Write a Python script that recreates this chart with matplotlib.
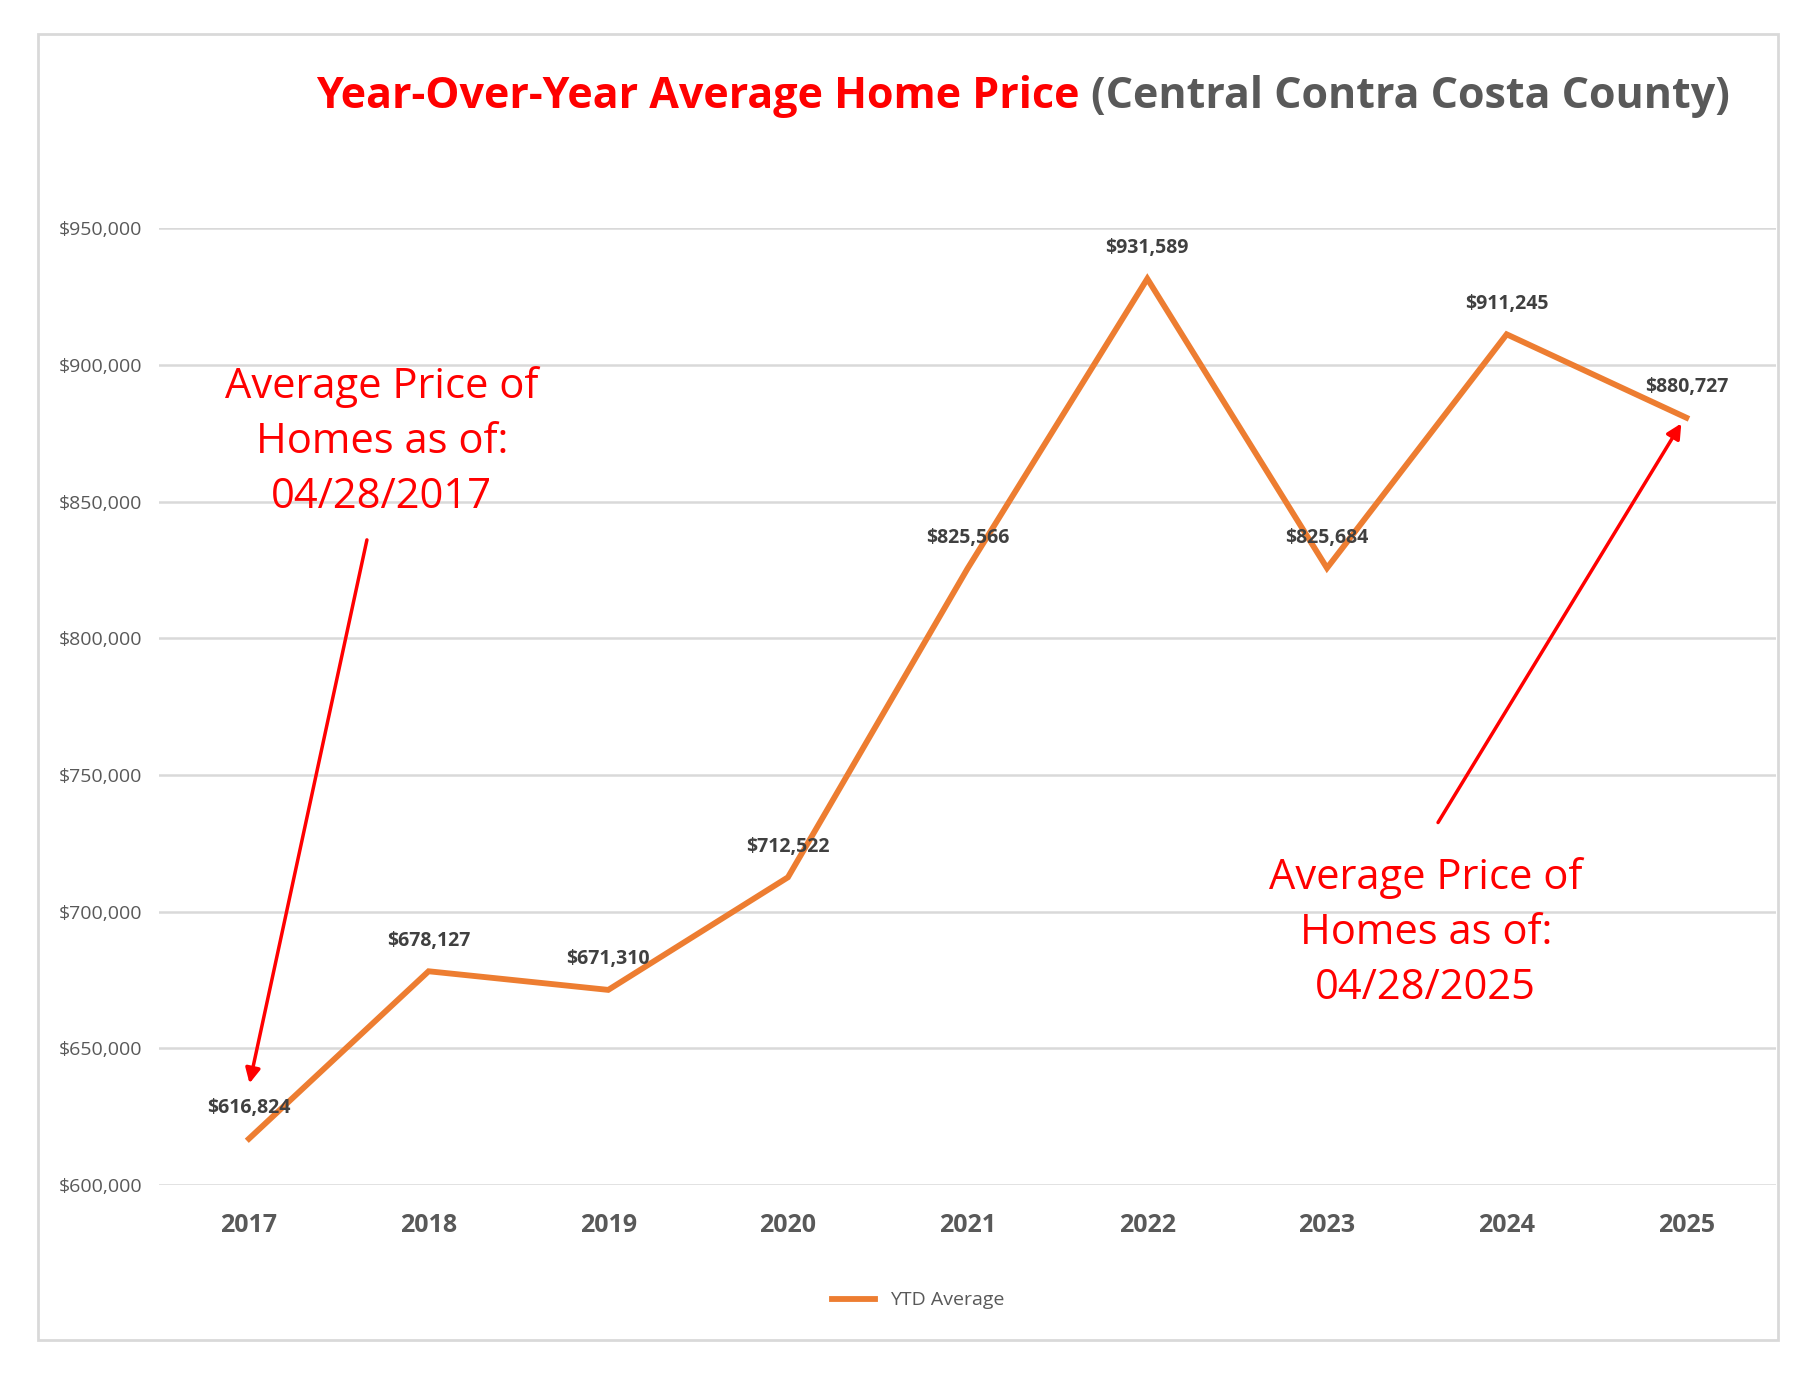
import matplotlib
matplotlib.use("Agg")
import matplotlib.pyplot as plt
from matplotlib.patches import Rectangle

years = ["2017", "2018", "2019", "2020", "2021", "2022", "2023", "2024", "2025"]
prices = [616824, 678127, 671310, 712522, 825566, 931589, 825684, 911245, 880727]
yticks = [600000, 650000, 700000, 750000, 800000, 850000, 900000, 950000]

ORANGE = "#ED7D31"
RED = "#FF0000"
FONT = ["Open Sans", "DejaVu Sans"]

fig = plt.figure(figsize=(18.18, 13.76), dpi=100)
ax = fig.add_axes([0.0875, 0.139, 0.8895, 0.695])

x = list(range(len(years)))
ax.plot(x, prices, color=ORANGE, linewidth=4.2, label="YTD Average", clip_on=False,
        solid_joinstyle="miter")
for xi, v in zip(x, prices):
    ax.annotate(f"${v:,}", (xi, v), textcoords="offset points", xytext=(0, 22),
                ha="center", va="center", fontsize=14, fontweight="bold",
                color="#404040", family=FONT)

ax.set_xlim(-0.5, len(years) - 0.5)
ax.set_ylim(600000, 950000)
ax.set_yticks(yticks)
ax.set_yticklabels([f"${v:,}" for v in yticks], fontsize=14, color="#595959", family=FONT)
ax.set_xticks(x)
ax.set_xticklabels(years, fontsize=18, fontweight="bold", color="#595959", family=FONT)
ax.tick_params(axis="x", length=0, pad=20)
ax.tick_params(axis="y", length=0, pad=12)
ax.grid(True, axis="y", color="#D9D9D9", linewidth=1.8)
ax.set_axisbelow(True)
for s in ax.spines.values():
    s.set_visible(False)

# annotations
ax.text(0.74, 871800, "Average Price of\nHomes as of:\n04/28/2017", color=RED,
        fontsize=30, ha="center", va="center", linespacing=1.4, family=FONT)
ax.annotate("", xy=(0.0, 636100), xytext=(0.66, 837000),
            arrowprops=dict(arrowstyle="-|>", color=RED, lw=2.5, mutation_scale=22))
ax.text(6.55, 692200, "Average Price of\nHomes as of:\n04/28/2025", color=RED,
        fontsize=30, ha="center", va="center", linespacing=1.4, family=FONT)
ax.annotate("", xy=(7.98, 879500), xytext=(6.61, 731700),
            arrowprops=dict(arrowstyle="-|>", color=RED, lw=2.5, mutation_scale=22))

# title
fig.text(0.594, 0.930, "Year-Over-Year Average Home Price", color=RED, fontsize=31,
         fontweight="bold", ha="right", va="center", family=FONT)
fig.text(0.600, 0.930, "(Central Contra Costa County)", color="#595959", fontsize=31,
         fontweight="bold", ha="left", va="center", family=FONT)

fig.legend(loc="center", bbox_to_anchor=(0.505, 0.055), frameon=False,
           prop={"family": FONT, "size": 14}, handlelength=2.2, labelcolor="#595959")

fig.patches.append(Rectangle((0.021, 0.026), 0.957, 0.949, transform=fig.transFigure,
                             fill=False, edgecolor="#D9D9D9", linewidth=2))

fig.savefig("out.png", dpi=100)
